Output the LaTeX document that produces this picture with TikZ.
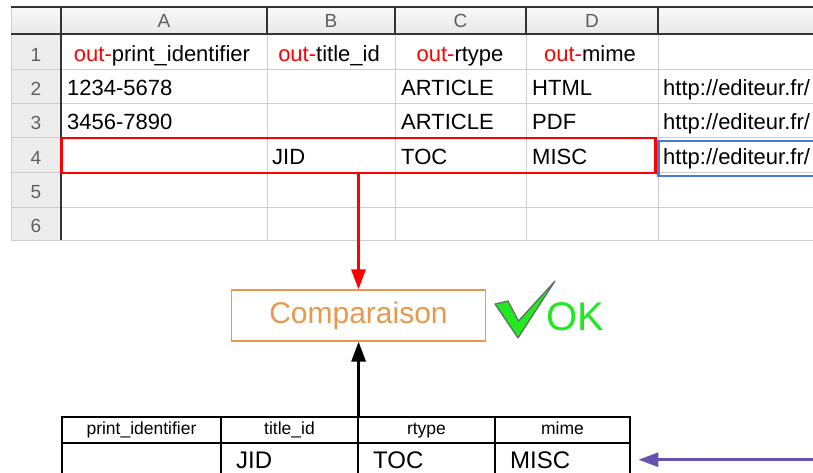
\documentclass[tikz,border=0pt]{standalone}
\usepackage{fontspec}
\setmainfont{Liberation Sans}
\usetikzlibrary{arrows.meta,positioning,calc}
\definecolor{gridgray}{RGB}{205,205,205}
\definecolor{headgray}{RGB}{95,95,95}
\definecolor{cmporange}{RGB}{232,152,78}
\definecolor{okgreen}{RGB}{34,232,34}
\definecolor{feedpurple}{RGB}{104,82,176}
\definecolor{selblue}{RGB}{72,122,210}

\begin{document}
\begin{tikzpicture}[x=1pt,y=-1pt,>={Triangle[length=20pt,width=14pt]},
  lbl/.style={inner sep=0pt,anchor=base},
  colhead/.style={lbl,text=headgray,font=\fontsize{19}{22}\selectfont},
  cell/.style={lbl,font=\fontsize{22}{26}\selectfont},
  tabhead/.style={draw,line width=1.2pt,minimum height=26pt,inner sep=0pt,text height=12pt,text depth=4pt,font=\fontsize{17.5}{20}\selectfont},
  tabcell/.style={inner xsep=15pt,inner ysep=0pt,text width=105pt,align=left,anchor=base west,font=\fontsize{24}{28}\selectfont}]
\useasboundingbox (0,0) rectangle (813,473);
\clip (0,0) rectangle (813,473);
\shade[top color=gray!5,bottom color=gray!18] (11,7) rectangle (830,34);
\fill[gray!14] (11,34) rectangle (61,240);
\foreach \y in {70,104,138,173,207,240} \draw[gridgray,line width=1pt] (11,\y) -- (830,\y);
\foreach \x in {267,395,526,658} \draw[gridgray,line width=1pt] (\x,34) -- (\x,240);
\draw[gridgray,line width=1pt] (11,7) -- (11,240);
\draw[line width=1.3pt,black!80] (11,7) -- (830,7) (11,34) -- (830,34) (61,7) -- (61,240);
\foreach \x in {267,395,526,658} \draw[line width=1.3pt,black!80] (\x,7) -- (\x,34);
\foreach \n/\x in {A/164,B/331,C/460.5,D/592} \node[colhead] (col\n) at (\x,28) {\n};
\foreach \r/\y in {1/62,2/96,3/130,4/164.5,5/198.5,6/232} \node[colhead] (row\r) at (36,\y) {\r};
\node[cell] (a1) at (162,62) {\textcolor{red}{out-}print\_identifier};
\node[cell] (b1) at (329,62) {\textcolor{red}{out-}title\_id};
\node[cell] (c1) at (460,62) {\textcolor{red}{out-}rtype};
\node[cell] (d1) at (590,62) {\textcolor{red}{out-}mime};
\foreach \c/\x/\t in {a/67/1234-5678,c/401/ARTICLE,d/532/HTML,e/663/{http://editeur.fr/}} \node[cell,anchor=base west] (\c2) at (\x,96) {\t};
\foreach \c/\x/\t in {a/67/3456-7890,c/401/ARTICLE,d/532/PDF,e/663/{http://editeur.fr/}} \node[cell,anchor=base west] (\c3) at (\x,130) {\t};
\foreach \c/\x/\t in {b/272/JID,c/401/TOC,d/532/MISC,e/663/{http://editeur.fr/}} \node[cell,anchor=base west] (\c4) at (\x,164.5) {\t};
\node[draw=red,line width=2.5pt,minimum width=594pt,minimum height=35pt,inner sep=0pt] (sel) at (358.5,155.5) {};
\node[draw=selblue,line width=2.2pt,minimum width=175pt,minimum height=35pt,inner sep=0pt] (cur) at (746,158.5) {};
\node[draw=cmporange,line width=1.2pt,minimum width=254pt,minimum height=51pt,text=cmporange,font=\fontsize{30}{34}\selectfont] (cmp) at (358.5,315.5) {Comparaison};
\draw[->,red,line width=3pt] (sel.south) -- (cmp.north);
\filldraw[fill=okgreen,draw=black!60,line width=1.2pt,line join=round] (495,304) -- (508,301) -- (518.5,321) -- (555,281) -- (518,338) -- cycle;
\node[lbl,anchor=base west,text=okgreen,font=\fontsize{40}{44}\selectfont] (ok) at (546,330) {OK};
\foreach \n/\x/\w/\t in {hA/141.5/159/print\_identifier,hB/289.5/137/title\_id,hC/426.5/137/rtype,hD/562.5/135/mime} \node[tabhead,minimum width=\w pt] (\n) at (\x,430) {\t};
\foreach \x in {62,221,358,495,630} \draw[line width=1.2pt] (\x,443) -- (\x,480);
\foreach \n/\x/\t in {dB/221/JID,dC/358/TOC,dD/495/MISC} \node[tabcell] (\n) at (\x,468) {\t};
\draw[->,line width=3pt] (hB.north east) -- (hB.north east |- cmp.south);
\coordinate (feed) at ($(dD.east)+(220,0)$);
\draw[->,feedpurple,line width=3pt,shorten >=8pt] (feed) -- (dD.east);
\end{tikzpicture}
\end{document}
